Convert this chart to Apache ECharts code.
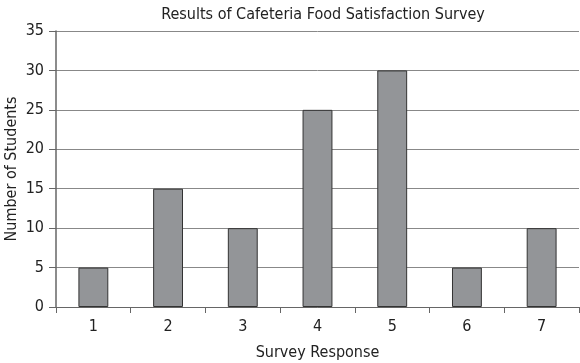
<!DOCTYPE html>
<html><head><meta charset="utf-8">
<script src="https://cdn.jsdelivr.net/npm/echarts@6/dist/echarts.min.js"></script>
<style>html,body{margin:0;padding:0;background:#fff}#c{width:580px;height:363px}</style>
</head><body><div id="c"></div>
<script>
const categories = ['1','2','3','4','5','6','7'];
const students = [5, 15, 10, 25, 30, 5, 10];
const yTicks = [0, 5, 10, 15, 20, 25, 30, 35];
const FONT = '"Liberation Sans Narrow","DejaVu Sans Condensed","Roboto Condensed",sans-serif';
const chart = echarts.init(document.getElementById('c'), null, {renderer:'canvas'});
chart.setOption({
  animation:false,
  backgroundColor:'#fff',
  title:{text:'Results of Cafeteria Food Satisfaction Survey', left:318, textAlign:'center', top:2,
    textStyle:{fontFamily:FONT, fontSize:16, fontWeight:'normal', color:'#222'}},
  grid:{left:56, right:1, top:31, bottom:56, containLabel:false, outerBoundsMode:'none'},
  xAxis:{type:'category', data:categories, name:'Survey Response', nameLocation:'middle', nameGap:38,
    nameTextStyle:{fontFamily:FONT, fontSize:16, color:'#222'},
    axisLine:{lineStyle:{color:'#666', width:1}},
    axisTick:{show:true, length:6, lineStyle:{color:'#666'}},
    axisLabel:{fontFamily:FONT, fontSize:16, color:'#222', margin:12},
    boundaryGap:true},
  yAxis:{type:'value', min:yTicks[0], max:yTicks[yTicks.length-1], interval:5,
    name:'Number of Students', nameLocation:'middle', nameGap:36, nameMoveOverlap:false,
    nameTextStyle:{fontFamily:FONT, fontSize:16, color:'#222'},
    axisLine:{show:true, lineStyle:{color:'#666', width:1.5}},
    axisTick:{show:true, length:7, lineStyle:{color:'#666'}},
    axisLabel:{fontFamily:FONT, fontSize:16, color:'#222', margin:12},
    splitLine:{show:true, lineStyle:{color:'#888', width:1}}},
  series:[{type:'bar', data:students, barWidth:'40%',
    itemStyle:{color:'#939598', borderColor:'#333', borderWidth:1}}]
});
</script></body></html>
